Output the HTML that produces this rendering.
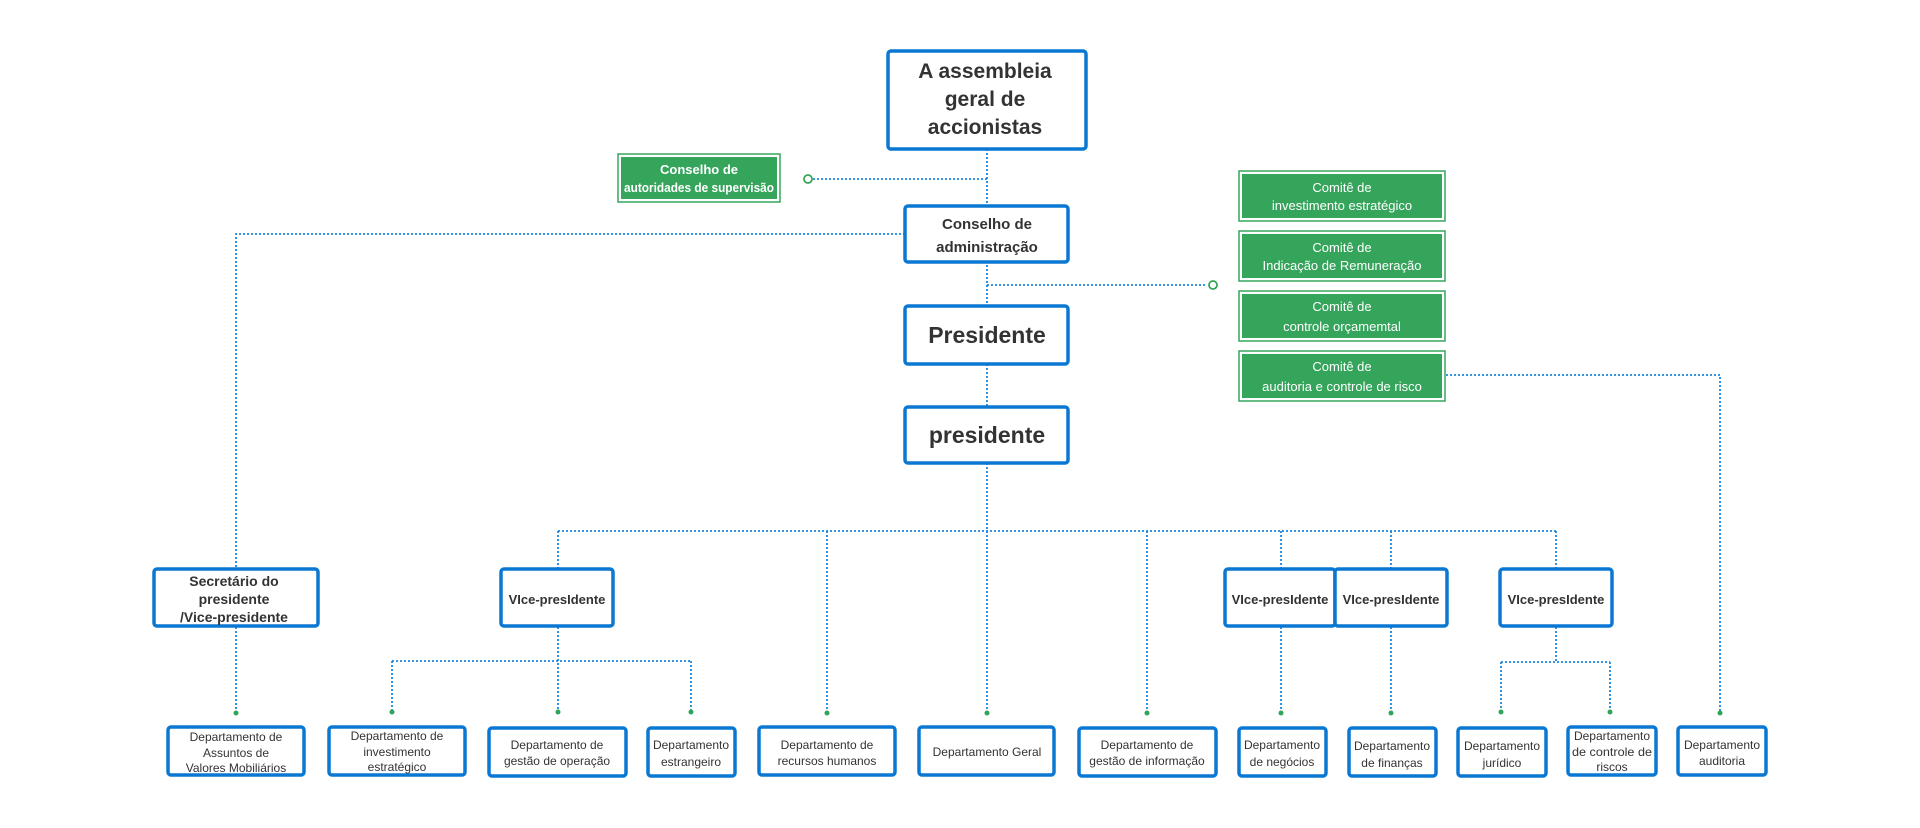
<!DOCTYPE html>
<html><head><meta charset="utf-8"><style>
html,body{margin:0;padding:0;background:#fff;}
svg{display:block;font-family:"Liberation Sans",sans-serif;}
.b{fill:#fff;stroke:#0a78d2;stroke-width:3.5;}
.g{fill:#36a55c;stroke:#fff;stroke-width:2;}
.go{fill:none;stroke:#36a55c;stroke-width:1.5;}
.d{stroke:#1a86e0;stroke-width:1.8;stroke-dasharray:2 2;fill:none;}
.t{fill:#333;text-anchor:middle;}
.w{fill:#fff;text-anchor:middle;font-size:13px;}
.s{font-size:12px;fill:#333;text-anchor:middle;}
.dot{fill:#2da55a;}
</style></head><body>
<svg width="1920" height="828" viewBox="0 0 1920 828">
<path class="d" d="M987 149 V306 M987 364 V407 M987 463 V531 M987 179 H812 M987 285 H1206 M905 234 H236 V568 M236 627 V713 M1446 375 H1720 V714
M558 531 H1556 M558 531 V568 M827 531 V713 M987 531 V713 M1147 531 V713 M1281 531 V568 M1391 531 V568 M1556 531 V568
M558 627 V713 M392 661 H691 M392 661 V713 M691 661 V713 M1281 627 V713 M1391 627 V713 M1556 627 V662 M1501 662 H1610 M1501 662 V713 M1610 662 V713"/>
<circle cx="808" cy="179" r="4" fill="#fff" stroke="#36a55c" stroke-width="1.8"/>
<circle cx="1213" cy="285" r="4" fill="#fff" stroke="#36a55c" stroke-width="1.8"/>
<g class="dot">
<circle cx="236" cy="713" r="2.5"/><circle cx="392" cy="712" r="2.5"/><circle cx="558" cy="712" r="2.5"/><circle cx="691" cy="712" r="2.5"/>
<circle cx="827" cy="713" r="2.5"/><circle cx="987" cy="713" r="2.5"/><circle cx="1147" cy="713" r="2.5"/><circle cx="1281" cy="713" r="2.5"/>
<circle cx="1391" cy="713" r="2.5"/><circle cx="1501" cy="712" r="2.5"/><circle cx="1610" cy="712" r="2.5"/><circle cx="1720" cy="713" r="2.5"/>
</g>
<rect class="b" x="888" y="51" width="198" height="98" rx="3"/>
<text class="t" font-weight="bold" font-size="21"><tspan x="985" y="78">A assembleia</tspan><tspan x="985" y="106">geral de</tspan><tspan x="985" y="134">accionistas</tspan></text>
<rect class="b" x="905" y="206" width="163" height="56" rx="3"/>
<text class="t" font-weight="bold" font-size="15"><tspan x="987" y="229">Conselho de</tspan><tspan x="987" y="252">administração</tspan></text>
<rect class="b" x="905" y="306" width="163" height="58" rx="3"/>
<text class="t" font-weight="bold" font-size="23" x="987" y="343">Presidente</text>
<rect class="b" x="905" y="407" width="163" height="56" rx="3"/>
<text class="t" font-weight="bold" font-size="23" x="987" y="443">presidente</text>
<rect class="go" x="618" y="154" width="162" height="48"/><rect class="g" x="620" y="156" width="158" height="44"/>
<text class="w" font-weight="bold" font-size="11"><tspan x="699" y="174">Conselho de</tspan><tspan x="699" y="192" textLength="150" lengthAdjust="spacingAndGlyphs">autoridades de supervisão</tspan></text>
<rect class="go" x="1239" y="171" width="206" height="50"/><rect class="g" x="1241" y="173" width="202" height="46"/>
<text class="w"><tspan x="1342" y="192">Comitê de</tspan><tspan x="1342" y="210">investimento  estratégico</tspan></text>
<rect class="go" x="1239" y="231" width="206" height="50"/><rect class="g" x="1241" y="233" width="202" height="46"/>
<text class="w"><tspan x="1342" y="252">Comitê de</tspan><tspan x="1342" y="270">Indicação de Remuneração</tspan></text>
<rect class="go" x="1239" y="291" width="206" height="50"/><rect class="g" x="1241" y="293" width="202" height="46"/>
<text class="w"><tspan x="1342" y="311">Comitê de</tspan><tspan x="1342" y="331">controle orçamemtal</tspan></text>
<rect class="go" x="1239" y="351" width="206" height="50"/><rect class="g" x="1241" y="353" width="202" height="46"/>
<text class="w"><tspan x="1342" y="371">Comitê de</tspan><tspan x="1342" y="391">auditoria e controle de risco</tspan></text>
<rect class="b" x="154" y="569" width="164" height="57" rx="3"/>
<text class="t" font-weight="bold" font-size="14"><tspan x="234" y="586">Secretário do</tspan><tspan x="234" y="604">presidente</tspan><tspan x="234" y="622">/Vice-presidente</tspan></text>
<rect class="b" x="501" y="569" width="112" height="57" rx="3"/>
<text class="t" font-weight="bold" font-size="13" x="557" y="604">VIce-presIdente</text>
<rect class="b" x="1225" y="569" width="110" height="57" rx="3"/>
<text class="t" font-weight="bold" font-size="13" x="1280" y="604">VIce-presIdente</text>
<rect class="b" x="1335" y="569" width="112" height="57" rx="3"/>
<text class="t" font-weight="bold" font-size="13" x="1391" y="604">VIce-presIdente</text>
<rect class="b" x="1500" y="569" width="112" height="57" rx="3"/>
<text class="t" font-weight="bold" font-size="13" x="1556" y="604">VIce-presIdente</text>
<rect class="b" x="168" y="727" width="136" height="48" rx="3"/>
<text class="s"><tspan x="236" y="741">Departamento de</tspan><tspan x="236" y="757">Assuntos de</tspan><tspan x="236" y="772">Valores Mobiliários</tspan></text>
<rect class="b" x="329" y="727" width="136" height="48" rx="3"/>
<text class="s"><tspan x="397" y="740">Departamento de</tspan><tspan x="397" y="756">investimento</tspan><tspan x="397" y="771">estratégico</tspan></text>
<rect class="b" x="489" y="728" width="137" height="48" rx="3"/>
<text class="s"><tspan x="557" y="749">Departamento de</tspan><tspan x="557" y="765">gestão de operação</tspan></text>
<rect class="b" x="648" y="728" width="87" height="48" rx="3"/>
<text class="s" font-size="11.5"><tspan x="691" y="749">Departamento</tspan><tspan x="691" y="766">estrangeiro</tspan></text>
<rect class="b" x="759" y="727" width="136" height="48" rx="3"/>
<text class="s"><tspan x="827" y="749">Departamento de</tspan><tspan x="827" y="765">recursos humanos</tspan></text>
<rect class="b" x="919" y="727" width="135" height="48" rx="3"/>
<text class="s" x="987" y="756">Departamento Geral</text>
<rect class="b" x="1079" y="728" width="137" height="48" rx="3"/>
<text class="s"><tspan x="1147" y="749">Departamento de</tspan><tspan x="1147" y="765">gestão de informação</tspan></text>
<rect class="b" x="1239" y="728" width="87" height="48" rx="3"/>
<text class="s" font-size="11.5"><tspan x="1282" y="749">Departamento</tspan><tspan x="1282" y="766">de negócios</tspan></text>
<rect class="b" x="1349" y="728" width="87" height="48" rx="3"/>
<text class="s" font-size="11.5"><tspan x="1392" y="750">Departamento</tspan><tspan x="1392" y="767">de finanças</tspan></text>
<rect class="b" x="1458" y="728" width="88" height="48" rx="3"/>
<text class="s" font-size="11.5"><tspan x="1502" y="750">Departamento</tspan><tspan x="1502" y="767">jurídico</tspan></text>
<rect class="b" x="1568" y="727" width="88" height="48" rx="3"/>
<text class="s" font-size="11.5"><tspan x="1612" y="740">Departamento</tspan><tspan x="1612" y="756" textLength="80" lengthAdjust="spacingAndGlyphs">de controle de</tspan><tspan x="1612" y="771">riscos</tspan></text>
<rect class="b" x="1678" y="727" width="88" height="48" rx="3"/>
<text class="s" font-size="11.5"><tspan x="1722" y="749">Departamento</tspan><tspan x="1722" y="765">auditoria</tspan></text>
</svg>
</body></html>
